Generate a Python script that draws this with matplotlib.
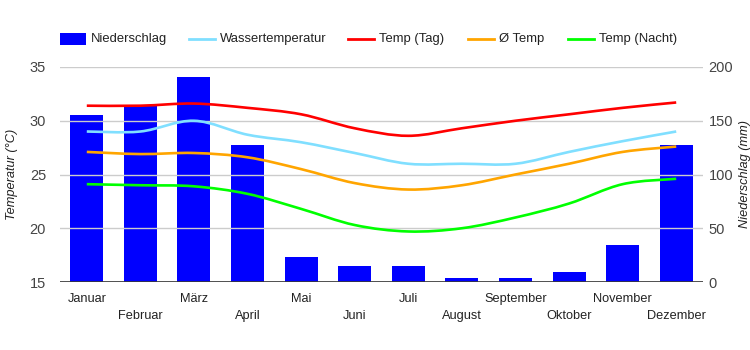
import matplotlib
matplotlib.use("Agg")
import matplotlib.pyplot as plt
import numpy as np
from matplotlib.path import Path
from matplotlib.patches import PathPatch, Rectangle
from matplotlib.lines import Line2D

months = ["Januar", "Februar", "März", "April", "Mai", "Juni", "Juli",
          "August", "September", "Oktober", "November", "Dezember"]
precip = [155, 164, 191, 127, 23, 15, 15, 4, 4, 9, 34, 127]
water = [29.0, 29.0, 30.0, 28.7, 28.0, 27.0, 26.0, 26.0, 26.0, 27.1, 28.1, 29.0]
temp_day = [31.4, 31.4, 31.6, 31.2, 30.6, 29.3, 28.6, 29.3, 30.0, 30.6, 31.2, 31.7]
temp_avg = [27.1, 26.9, 27.0, 26.6, 25.5, 24.2, 23.6, 24.0, 25.0, 26.0, 27.1, 27.6]
temp_night = [24.1, 24.0, 23.9, 23.2, 21.8, 20.3, 19.7, 20.0, 21.0, 22.3, 24.1, 24.6]

FONT = "Liberation Sans"
plt.rcParams["font.family"] = [FONT, "DejaVu Sans"]

W, H = 750, 350
fig = plt.figure(figsize=(7.5, 3.5), dpi=100)
L, R, T, B = 60, 703, 67, 282
ax = fig.add_axes([L / W, 1 - B / H, (R - L) / W, (B - T) / H])
ax2 = ax.twinx()

x = np.arange(len(months))

# bars on right axis
ax2.bar(x, precip, width=0.615, color="#0000ff", zorder=1)
ax2.set_ylim(0, 200)
ax2.set_yticks([0, 50, 100, 150, 200])

ax.set_zorder(ax2.get_zorder() + 1)
ax.patch.set_visible(False)

ax.set_ylim(15, 35)
ax.set_xlim(-0.5, 11.5)
ax.set_yticks([15, 20, 25, 30, 35])


def smooth_path(xs, ys, k=1.0):
    pts = np.column_stack([xs, ys]).astype(float)
    n = len(pts)
    verts = [pts[0]]
    codes = [Path.MOVETO]
    for i in range(n - 1):
        p0 = pts[max(i - 1, 0)]
        p1 = pts[i]
        p2 = pts[i + 1]
        p3 = pts[min(i + 2, n - 1)]
        c1 = p1 + (p2 - p0) * k / 6
        c2 = p2 - (p3 - p1) * k / 6
        verts += [c1, c2, p2]
        codes += [Path.CURVE4] * 3
    return Path(verts, codes)


series = [(water, "#80dfff"), (temp_day, "#ff0000"),
          (temp_avg, "#ffa500"), (temp_night, "#00ff00")]
for ys, c in series:
    pp = PathPatch(smooth_path(x, ys), facecolor="none", edgecolor=c, lw=1.9,
                   zorder=3, capstyle="butt")
    ax.add_patch(pp)

# grid
ax.grid(axis="y", color="#cccccc", lw=1, zorder=0)
ax2.grid(False)
ax.set_axisbelow(True)
for a in (ax, ax2):
    for s in ["top", "left", "right", "bottom"]:
        a.spines[s].set_visible(False)
ax.axhline(15, color="#333333", lw=1.2, zorder=4)

ax.set_xticks(x)
ax.set_xticklabels([m if i % 2 == 0 else "\n" + m for i, m in enumerate(months)],
                   fontsize=9.2, color="#222222", linespacing=1.55)
ax.tick_params(axis="x", length=0, pad=8)
ax.tick_params(axis="y", length=0, pad=10, labelsize=10.5, labelcolor="#444444")
ax2.tick_params(axis="y", length=0, pad=4, labelsize=10.5, labelcolor="#444444")

ax.set_ylabel("Temperatur (°C)", fontsize=9.2, style="italic", color="#222222")
ax2.set_ylabel("Niederschlag (mm)", fontsize=9.2, style="italic", color="#222222",
               rotation=90)
ax.yaxis.set_label_coords((18 - L) / (R - L), 0.5)
ax2.yaxis.set_label_coords((739 - L) / (R - L), 0.5)

# legend (manual)
ly = 1 - 39 / H
fig.add_artist(Rectangle((60 / W, 1 - 45 / H), 26 / W, 12 / H, transform=fig.transFigure,
                         facecolor="#0000ff", edgecolor="none"))
fig.text(91 / W, ly, "Niederschlag", fontsize=9.4, color="#222222", va="center")
leg = [(189, "Wassertemperatur", "#80dfff"), (348, "Temp (Tag)", "#ff0000"),
       (468, "Ø Temp", "#ffa500"), (568, "Temp (Nacht)", "#00ff00")]
for x0, lab, c in leg:
    fig.add_artist(Line2D([x0 / W, (x0 + 26) / W], [ly, ly], transform=fig.transFigure,
                          color=c, lw=2))
    fig.text((x0 + 31) / W, ly, lab, fontsize=9.4, color="#222222", va="center")

fig.savefig("out.png", dpi=100)
